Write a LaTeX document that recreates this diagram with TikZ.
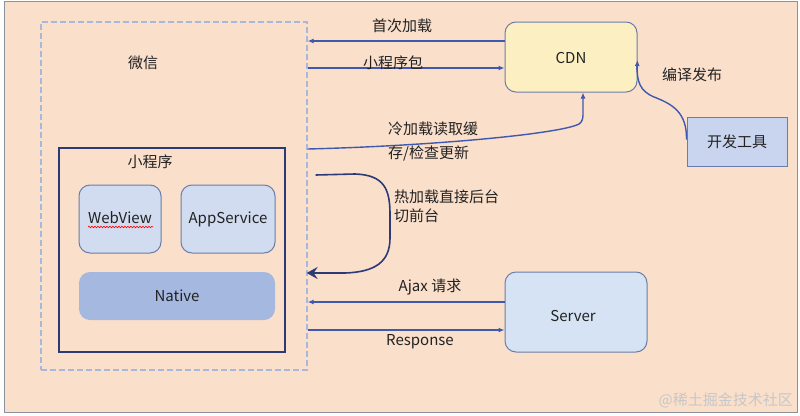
\documentclass[tikz,border=0pt]{standalone}
\usepackage{fontspec}
\setmainfont{Noto Sans CJK SC}
\usetikzlibrary{arrows.meta,calc,decorations.pathmorphing}
\definecolor{bgpeach}{HTML}{FADFCB}
\definecolor{framegray}{HTML}{8C929C}
\definecolor{dashblue}{HTML}{A9B7DC}
\definecolor{navy}{HTML}{2C3A78}
\definecolor{arrblue}{HTML}{3F58B0}
\definecolor{boxedge}{HTML}{6A7DA8}
\definecolor{lightblue}{HTML}{D1DCF0}
\definecolor{nativeblue}{HTML}{A4B8E0}
\definecolor{cdnyellow}{HTML}{FCF0C3}
\definecolor{serverblue}{HTML}{D5E3F5}
\definecolor{devblue}{HTML}{C9D5EE}
\definecolor{txt}{HTML}{222222}
\begin{document}
\begin{tikzpicture}[x=1pt,y=-1pt,
  every node/.style={text=txt,font=\fontsize{15}{17}\selectfont},
  rbox/.style={draw=boxedge,line width=1pt,rounded corners=11pt,inner sep=0pt},
  arr/.style={draw=arrblue,line width=1.4pt,-{Latex[length=6pt,width=5pt]}},
  lbl/.style={inner sep=0pt}]
\useasboundingbox (0,0) rectangle (800,415);
\fill[bgpeach] (4,1) rectangle (797,412);
\draw[framegray,line width=1pt] (4,1) rectangle (797,412);
% WeChat dashed container
\node[draw=dashblue,dash pattern=on 6pt off 3pt,line width=1.3pt,minimum width=266pt,minimum height=348pt,inner sep=0pt] (wx) at (174,196) {};
\node[lbl] (wxl) at (143,63) {微信};
% mini program box
\node[draw=navy,line width=1.8pt,minimum width=226pt,minimum height=204pt,inner sep=0pt] (mp) at (172,250) {};
\node[lbl] (mpl) at (150,162) {小程序};
\node[rbox,fill=lightblue,minimum width=82pt,minimum height=68pt] (wv) at (120,219) {};
\node[lbl] (wvl) at (120,218) {WebView};
\draw[red,line width=0.6pt,decorate,decoration={snake,amplitude=0.8pt,segment length=3pt}] (88,227) -- (153,227);
\node[rbox,fill=lightblue,minimum width=94pt,minimum height=68pt] (as) at (228,219) {AppService};
\node[rbox,draw=none,fill=nativeblue,minimum width=196pt,minimum height=48pt] (nat) at (177,296) {Native};
% right side boxes
\node[rbox,fill=cdnyellow,minimum width=132pt,minimum height=70pt] (cdn) at (571,57) {};
\node[lbl] (cdnl) at (571,58) {CDN};
\node[draw=boxedge,line width=1pt,fill=devblue,minimum width=100pt,minimum height=49pt,inner sep=0pt] (dev) at (737,141.5) {开发工具};
\node[rbox,fill=serverblue,minimum width=142pt,minimum height=80pt] (srv) at (576,312) {};
\node[lbl] (srvl) at (573,316) {Server};
% coordinates
\coordinate (a1) at ($(cdn.west)+(0,-16)$);
\coordinate (a2) at ($(cdn.west)+(0,11)$);
\coordinate (c1) at ($(wx.east)+(0,-47)$);
\coordinate (c2) at ($(cdn.south)+(12,0)$);
\coordinate (h1) at ($(wx.east)+(8,-21)$);
\coordinate (h2) at ($(wx.east)+(-1,77)$);
\coordinate (s1) at ($(srv.west)+(0,-10)$);
\coordinate (s2) at ($(srv.west)+(0,18)$);
\coordinate (d1) at ($(dev.west)+(0,-2)$);
\coordinate (d2) at ($(cdn.east)+(0,3)$);
% connectors
\draw[arr] (a1) -- (a1 -| wx.east);
\draw[arr] (a2 -| wx.east) -- (a2);
\draw[arr] (c1) .. controls (430,146) and (560,134) .. (579,124) .. controls (583,121) and (583,118) .. (583,112) -- (c2);
\draw[draw=arrblue,line width=1.4pt] (d1) .. controls (687,112) and (672,104) .. (654,97) .. controls (640,91) and (637,82) .. (637,66);
\draw[arr] (637,70) -- (d2);
\draw[draw=navy,line width=1.6pt,-{Stealth[length=11pt,width=12pt,inset=4pt]}] (h1) -- (355,174) .. controls (385,175) and (390,190) .. (390,215) -- (390,238) .. controls (390,262) and (375,272) .. (345,273) -- (h2);
\draw[arr] (s1) -- (s1 -| wx.east);
\draw[arr] (s2 -| wx.east) -- (s2);
% labels
\node[lbl] (l1) at (402,26) {首次加载};
\node[lbl] (l2) at (393,63) {小程序包};
\node[lbl,anchor=north west,align=left,font=\fontsize{15}{23.5}\selectfont] (l3) at (388,122) {冷加载读取缓\\存/检查更新};
\node[lbl,anchor=north west,align=left,font=\fontsize{15}{19}\selectfont] (l4) at (394,190) {热加载直接后台\\切前台};
\node[lbl] (l5) at (692,75) {编译发布};
\node[lbl] (l6) at (430,287) {Ajax 请求};
\node[lbl] (l7) at (420,342) {Response};
\node[lbl,anchor=east,text=black!22,font=\fontsize{15}{17}\selectfont] (wm) at (793,400) {@稀土掘金技术社区};
\end{tikzpicture}
\end{document}
